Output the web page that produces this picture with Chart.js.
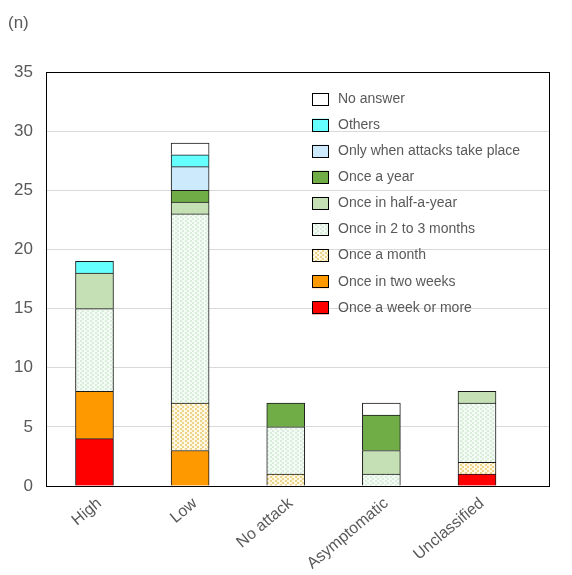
<!DOCTYPE html>
<html>
<head>
<meta charset="utf-8">
<script src="https://cdn.jsdelivr.net/npm/chart.js@4.4.1/dist/chart.umd.min.js"></script>
<style>
  html, body { margin: 0; padding: 0; background: #fff; }
  #wrap { width: 572px; height: 575px; }
</style>
</head>
<body>
<div id="wrap"><canvas id="freqChart" width="572" height="575"></canvas></div>
<script>
// Data
const categories = ['High', 'Low', 'No attack', 'Asymptomatic', 'Unclassified'];
const yTicks = [0, 5, 10, 15, 20, 25, 30, 35];

const weekOrMore   = [4, 0, 0, 0, 1];
const twoWeeks     = [4, 3, 0, 0, 0];
const aMonth       = [0, 4, 1, 0, 1];
const twoToThree   = [7, 16, 4, 1, 5];
const halfYear     = [3, 1, 0, 2, 1];
const aYear        = [0, 1, 2, 3, 0];
const onlyAttacks  = [0, 2, 0, 0, 0];
const others       = [1, 1, 0, 0, 0];
const noAnswer     = [0, 1, 0, 1, 0];

// small dotted fills
function dots(bg, dot) {
    const c = document.createElement('canvas');
    c.width = 5; c.height = 4;
    const g = c.getContext('2d');
    g.fillStyle = bg; g.fillRect(0, 0, 5, 4);
    g.fillStyle = dot;
    g.fillRect(0, 0, 2, 2);
    g.fillRect(2, 2, 2, 2);
    return g.createPattern(c, 'repeat');
}
const monthFill = dots('#fff9e4', '#eed48a');
const twoThreeFill = dots('#f4faf5', '#d9eed8');

function ds(label, values, color) {
    return {
        label: label,
        data: values.map((v, i) => ({ x: i, y: v })),
        backgroundColor: color,
        borderColor: '#1a1a1a',
        borderWidth: 1,
        barThickness: 38
    };
}

const datasets = [
    ds('Once a week or more', weekOrMore, '#ff0000'),
    ds('Once in two weeks', twoWeeks, '#ff9900'),
    ds('Once a month', aMonth, monthFill),
    ds('Once in 2 to 3 months', twoToThree, twoThreeFill),
    ds('Once in half-a-year', halfYear, '#c5e0b4'),
    ds('Once a year', aYear, '#70ad47'),
    ds('Only when attacks take place', onlyAttacks, '#cdeafd'),
    ds('Others', others, '#66ffff'),
    ds('No answer', noAnswer, '#ffffff')
];

const textColor = '#595959';
const fontFamily = '"Liberation Sans", Arial, sans-serif';

// frame, unit label and legend inside plot
const extras = {
    id: 'extras',
    afterDraw(chart) {
        const ctx = chart.ctx;
        const a = chart.chartArea;
        ctx.save();
        ctx.strokeStyle = '#000';
        ctx.lineWidth = 1;
        ctx.strokeRect(Math.round(a.left) + 0.5, Math.round(a.top) + 0.5,
            Math.round(a.right - a.left), Math.round(a.bottom - a.top));

        ctx.fillStyle = textColor;
        ctx.font = '17px ' + fontFamily;
        ctx.textBaseline = 'middle';
        ctx.fillText('(n)', 8, 23);

        ctx.font = '14px ' + fontFamily;
        const list = chart.data.datasets.slice().reverse();
        list.forEach((d, i) => {
            const y = 99 + i * 26.1;
            ctx.fillStyle = d.backgroundColor;
            ctx.fillRect(312, y - 6.5, 17, 13);
            ctx.strokeStyle = '#000';
            ctx.strokeRect(312.5, Math.round(y - 6.5) + 0.5, 16, 12);
            ctx.fillStyle = textColor;
            ctx.fillText(d.label, 338, y);
        });
        ctx.restore();
    }
};

const ctx = document.getElementById('freqChart').getContext('2d');
const freqChart = new Chart(ctx, {
    type: 'bar',
    data: { datasets: datasets },
    plugins: [extras],
    options: {
        responsive: false,
        animation: false,
        layout: { padding: { top: 72, right: 23, left: 0, bottom: 0 } },
        plugins: {
            legend: { display: false },
            tooltip: { enabled: false }
        },
        scales: {
            x: {
                type: 'linear',
                stacked: true,
                offset: false,
                min: -0.507,
                max: 4.753,
                afterBuildTicks: axis => { axis.ticks = categories.map((c, i) => ({ value: i })); },
                afterFit: axis => { axis.height = 89; },
                grid: { display: false },
                border: { display: false },
                ticks: {
                    callback: v => categories[v],
                    color: textColor,
                    font: { family: fontFamily, size: 16 },
                    maxRotation: 40,
                    minRotation: 40,
                    padding: 0,
                    labelOffset: 5
                }
            },
            y: {
                stacked: true,
                min: 0,
                max: 35,
                afterBuildTicks: axis => { axis.ticks = yTicks.map(v => ({ value: v })); },
                afterFit: axis => { axis.width = 46; },
                grid: { color: '#d9d9d9', drawTicks: false },
                border: { display: false },
                ticks: {
                    color: textColor,
                    font: { family: fontFamily, size: 17 },
                    padding: 13
                }
            }
        }
    }
});
</script>
</body>
</html>
